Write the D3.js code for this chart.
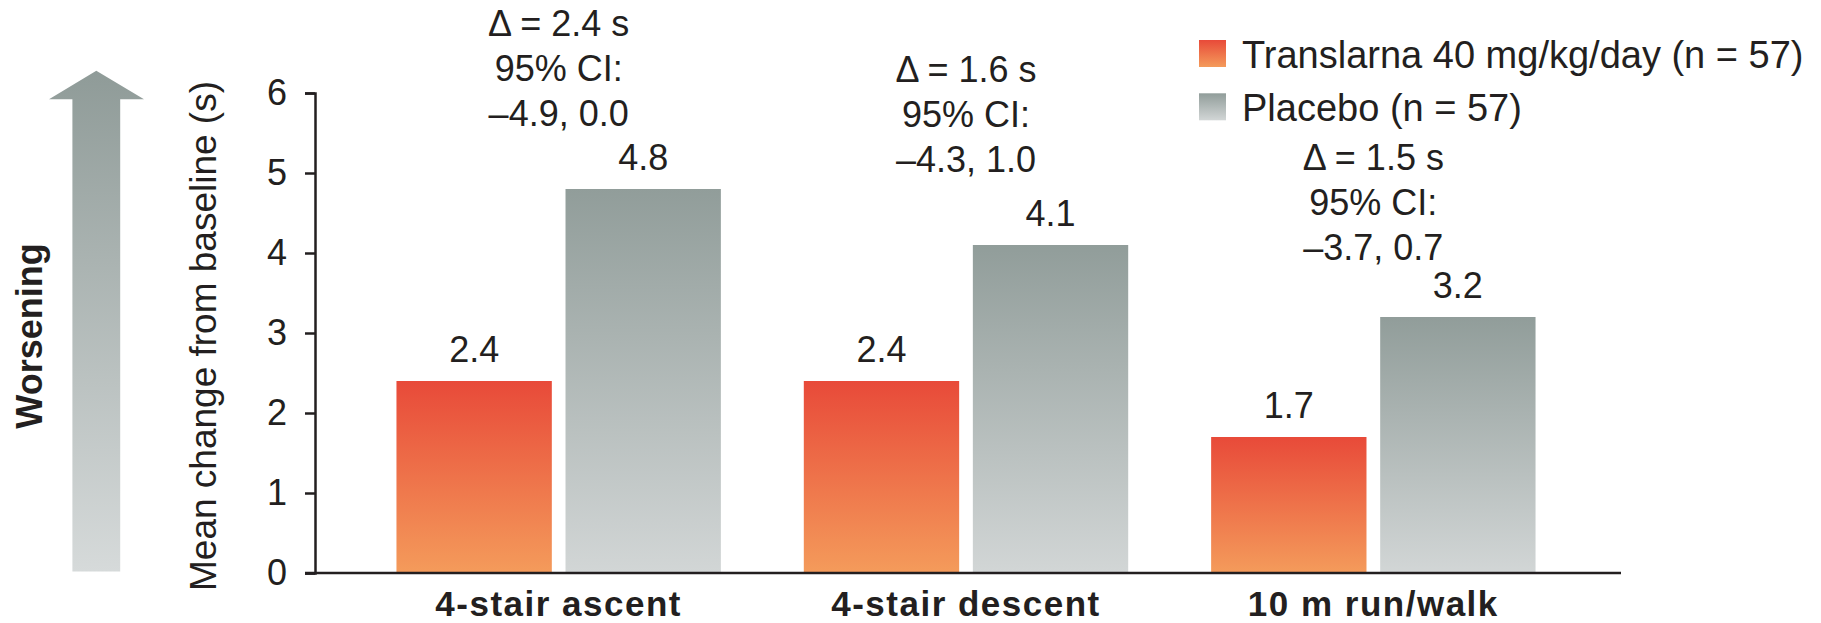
<!DOCTYPE html>
<html>
<head>
<meta charset="utf-8">
<script src="https://cdn.jsdelivr.net/npm/d3@7"></script>
<style>
  html, body { margin: 0; padding: 0; background: #fff; }
  svg { display: block; font-family: "Liberation Sans", Arial, Helvetica, sans-serif; }
</style>
</head>
<body>
<svg id="chart" width="1821" height="623"></svg>
<script>
// Timed function tests: mean change from baseline (seconds)
const categories = ["4-stair ascent", "4-stair descent", "10 m run/walk"];
const translarnaValues = [2.4, 2.4, 1.7];
const placeboValues = [4.8, 4.1, 3.2];
const deltaLabels = ["\u0394 = 2.4 s", "\u0394 = 1.6 s", "\u0394 = 1.5 s"];
const ciLabels = ["\u20134.9, 0.0", "\u20134.3, 1.0", "\u20133.7, 0.7"];
const seriesKeys = ["translarna", "placebo"];
const seriesNames = ["Translarna 40 mg/kg/day (n = 57)", "Placebo (n = 57)"];
const yTicks = [0, 1, 2, 3, 4, 5, 6];

// Layout
const ink = "#231f20";
const annoLift = [63, 73, 57];   // gap between placebo bar top and the last annotation line
const annoLineGap = 45;

const svg = d3.select("#chart");
const defs = svg.append("defs");

function vGradient(id, top, bottom) {
  const g = defs.append("linearGradient").attr("id", id)
    .attr("x1", 0).attr("y1", 0).attr("x2", 0).attr("y2", 1);
  g.append("stop").attr("offset", "0%").attr("stop-color", top);
  g.append("stop").attr("offset", "100%").attr("stop-color", bottom);
}
vGradient("grad-translarna", "#e84a39", "#f49b5b");
vGradient("grad-placebo", "#919d9a", "#d2d6d6");
vGradient("grad-arrow", "#8f9b98", "#d6dada");
const fills = { translarna: "url(#grad-translarna)", placebo: "url(#grad-placebo)" };

const y = d3.scaleLinear().domain([0, 6]).range([573, 93]);
const x0 = d3.scaleBand().domain(categories).range([355, 1577]).padding(0);
const x1 = d3.scaleBand().domain(seriesKeys).range([-162.2, 162.2]).paddingInner(0.081);
const center = c => x0(c) + x0.bandwidth() / 2;

// "Worsening" arrow
const ax = 96.3;
const arrowPts = [
  [ax, 70.7], [ax + 47.7, 99.3], [ax + 23.9, 99.3], [ax + 23.9, y(0) - 1.5],
  [ax - 23.9, y(0) - 1.5], [ax - 23.9, 99.3], [ax - 47.3, 99.3]
];
svg.append("polygon")
  .attr("points", arrowPts.map(p => p.join(",")).join(" "))
  .attr("fill", "url(#grad-arrow)");

svg.append("text")
  .attr("transform", `translate(41.5, 336) rotate(-90)`)
  .attr("text-anchor", "middle")
  .attr("font-size", 36).attr("font-weight", "bold").attr("fill", ink)
  .text("Worsening");

// Y axis title
svg.append("text")
  .attr("transform", `translate(216, 336) rotate(-90)`)
  .attr("text-anchor", "middle")
  .attr("font-size", 37).attr("fill", ink)
  .text("Mean change from baseline (s)");

// Bars
const groups = svg.append("g").selectAll("g")
  .data(categories)
  .join("g")
  .attr("transform", c => `translate(${center(c)},0)`);

groups.selectAll("rect")
  .data((c, i) => [
    { key: "translarna", value: translarnaValues[i] },
    { key: "placebo", value: placeboValues[i] }
  ])
  .join("rect")
  .attr("x", d => x1(d.key))
  .attr("y", d => y(d.value))
  .attr("width", x1.bandwidth())
  .attr("height", d => y(0) - y(d.value))
  .attr("fill", d => fills[d.key]);

// Value labels
groups.selectAll("text.value")
  .data((c, i) => [
    { key: "translarna", value: translarnaValues[i] },
    { key: "placebo", value: placeboValues[i] }
  ])
  .join("text")
  .attr("class", "value")
  .attr("x", d => x1(d.key) + x1.bandwidth() / 2)
  .attr("y", d => y(d.value) - 19.5)
  .attr("text-anchor", "middle")
  .attr("font-size", 36).attr("fill", ink)
  .text(d => d3.format(".1f")(d.value));

// Treatment difference annotations
groups.each(function (c, i) {
  const base = y(placeboValues[i]) - annoLift[i];
  const lines = [deltaLabels[i], "95% CI:", ciLabels[i]];
  d3.select(this).selectAll("text.anno")
    .data(lines)
    .join("text")
    .attr("class", "anno")
    .attr("x", 0)
    .attr("y", (t, j) => base - (lines.length - 1 - j) * annoLineGap)
    .attr("text-anchor", "middle")
    .attr("font-size", 36).attr("fill", ink)
    .text(t => t);
});

// Y axis
const yAxis = d3.axisLeft(y).tickValues(yTicks).tickFormat(d3.format("d"))
  .tickSize(10).tickPadding(18);
const yg = svg.append("g").attr("transform", "translate(315,0)").call(yAxis);
yg.selectAll("path, line").attr("stroke", ink).attr("stroke-width", 2.5);
yg.selectAll("text").attr("font-size", 36).attr("fill", ink)
  .attr("font-family", "'Liberation Sans', Arial, Helvetica, sans-serif");

// Baseline
svg.append("line")
  .attr("x1", 305).attr("x2", 1621)
  .attr("y1", y(0)).attr("y2", y(0))
  .attr("stroke", ink).attr("stroke-width", 2.5);

// Category labels
svg.append("g").selectAll("text")
  .data(categories)
  .join("text")
  .attr("x", c => center(c))
  .attr("y", 615.5)
  .attr("text-anchor", "middle")
  .attr("font-size", 35).attr("font-weight", "bold")
  .attr("letter-spacing", 1.5).attr("fill", ink)
  .text(c => c);

// Legend
const legend = svg.append("g").attr("transform", "translate(1199,40)")
  .selectAll("g")
  .data(seriesKeys)
  .join("g")
  .attr("transform", (k, i) => `translate(0,${i * 53.3})`);
legend.append("rect")
  .attr("width", 27).attr("height", 27)
  .attr("fill", k => fills[k]);
legend.append("text")
  .attr("x", 43).attr("y", 28)
  .attr("font-size", 38).attr("fill", ink)
  .text((k, i) => seriesNames[i]);
</script>
</body>
</html>
